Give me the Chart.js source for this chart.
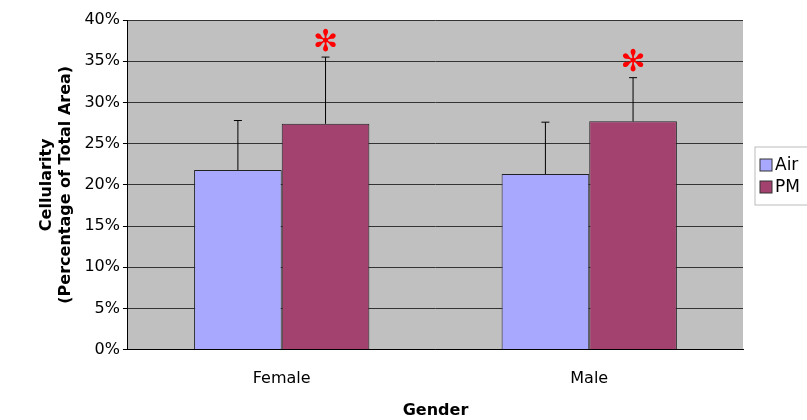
<!DOCTYPE html>
<html>
<head>
<script src="https://cdn.jsdelivr.net/npm/chart.js"></script>
<style>body{margin:0;background:#fff}#wrap{width:807px;height:420px}</style>
</head>
<body>
<div id="wrap"><canvas id="c"></canvas></div>
<script>
'use strict';
const genders = ['Female', 'Male'];
const airValues = [21.8, 21.3];
const pmValues = [27.4, 27.7];
const airErrors = [6.0, 6.3];
const pmErrors = [8.1, 5.3];
const significant = [true, true];

const fontFamily = '"DejaVu Sans", Verdana, sans-serif';

const plotPlugin = {
  id: 'plotExtras',
  beforeDraw(chart) {
    const { ctx, chartArea: a } = chart;
    ctx.save();
    ctx.fillStyle = '#c0c0c0';
    ctx.fillRect(a.left, a.top, a.right - a.left, a.bottom - a.top);
    ctx.restore();
  },
  afterDatasetsDraw(chart) {
    const { ctx } = chart;
    const y = chart.scales.y;
    const errs = [airErrors, pmErrors];
    ctx.save();
    ctx.strokeStyle = '#000';
    ctx.lineWidth = 1;
    chart.data.datasets.forEach((ds, di) => {
      chart.getDatasetMeta(di).data.forEach((bar, i) => {
        const top = y.getPixelForValue(ds.data[i] + errs[di][i]);
        ctx.beginPath();
        ctx.moveTo(bar.x, bar.y);
        ctx.lineTo(bar.x, top);
        ctx.moveTo(bar.x - 4, top);
        ctx.lineTo(bar.x + 4, top);
        ctx.stroke();
        if (di === 1 && significant[i]) {
          ctx.fillStyle = '#ff0000';
          ctx.font = '30px ' + fontFamily;
          ctx.textAlign = 'center';
          ctx.textBaseline = 'middle';
          ctx.fillText('✻', bar.x, top - 14);
        }
      });
    });
    // legend
    const lx = 755, ly = 147;
    ctx.strokeStyle = '#bbb';
    ctx.strokeRect(lx, ly, 60, 58);
    const items = [['Air', '#a8a8ff'], ['PM', '#a3426f']];
    ctx.font = '17px ' + fontFamily;
    ctx.textAlign = 'left';
    ctx.textBaseline = 'middle';
    items.forEach((it, k) => {
      const yy = ly + 18 + k * 22;
      ctx.fillStyle = it[1];
      ctx.fillRect(lx + 5, yy - 6, 12, 12);
      ctx.strokeStyle = '#333';
      ctx.strokeRect(lx + 5, yy - 6, 12, 12);
      ctx.fillStyle = '#000';
      ctx.fillText(it[0], lx + 20, yy + 1);
    });
    ctx.restore();
  }
};

new Chart(document.getElementById('c'), {
  type: 'bar',
  data: {
    labels: genders,
    datasets: [
      { label: 'Air', data: airValues, backgroundColor: '#a8a8ff', borderColor: '#222', borderWidth: 1 },
      { label: 'PM', data: pmValues, backgroundColor: '#a3426f', borderColor: '#222', borderWidth: 1 }
    ]
  },
  options: {
    responsive: true,
    maintainAspectRatio: false,
    animation: false,
    layout: { padding: { top: 20, right: 64, left: 33, bottom: 0 } },
    plugins: { legend: { display: false }, tooltip: { enabled: false } },
    datasets: { bar: { categoryPercentage: 0.57, barPercentage: 1 } },
    scales: {
      x: {
        grid: { display: false },
        border: { color: '#000' },
        ticks: { color: '#000', font: { family: fontFamily, size: 16 }, padding: 12 },
        title: { display: true, text: 'Gender', color: '#000', font: { family: fontFamily, size: 16, weight: 'bold' }, padding: { top: 0, bottom: 0 } }
      },
      y: {
        min: 0, max: 40,
        grid: { color: '#333', drawTicks: true, tickLength: 5, tickColor: '#000' },
        border: { color: '#000' },
        ticks: { stepSize: 5, color: '#000', font: { family: fontFamily, size: 16 }, callback: v => v + '%' },
        title: { display: true, text: ['Cellularity', '(Percentage of Total Area)'], color: '#000', font: { family: fontFamily, size: 16, weight: 'bold' }, padding: { bottom: 6 } }
      }
    }
  },
  plugins: [plotPlugin]
});
</script>
</body>
</html>
